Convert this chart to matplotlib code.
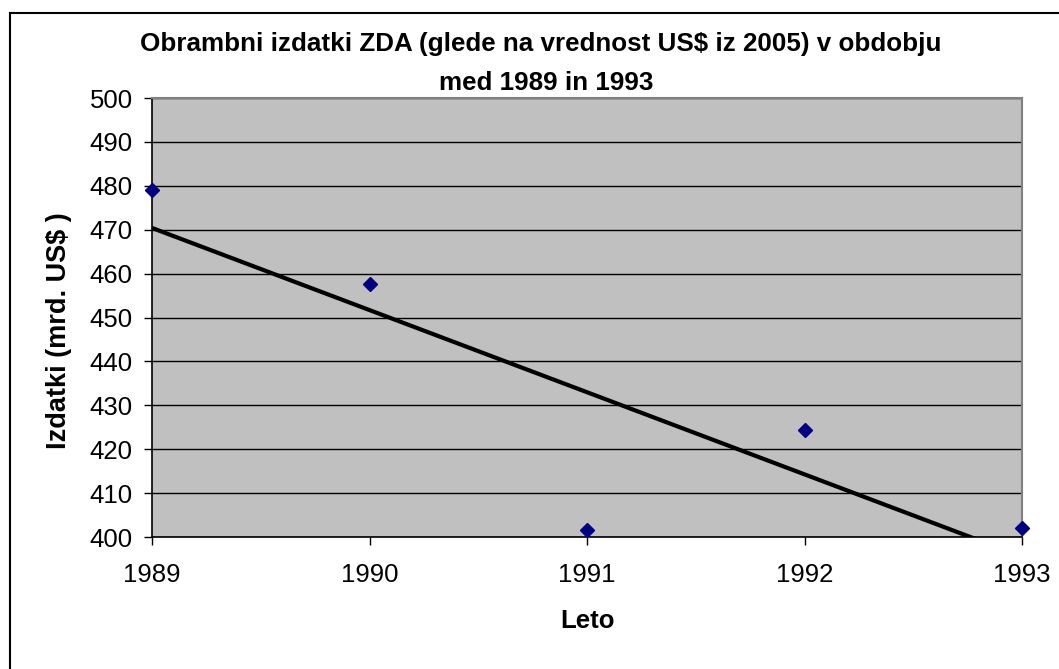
import matplotlib
matplotlib.use("Agg")
import matplotlib.pyplot as plt
from matplotlib.lines import Line2D
import numpy as np

years = [1989, 1990, 1991, 1992, 1993]
spending = [479.0, 457.7, 401.7, 424.4, 402.1]
yticks = [400, 410, 420, 430, 440, 450, 460, 470, 480, 490, 500]
title_lines = ["Obrambni izdatki ZDA (glede na vrednost US$ iz 2005) v obdobju",
               "med 1989 in 1993"]
xlabel = "Leto"
ylabel = "Izdatki (mrd. US$ )"

plt.rcParams['font.family'] = ['Liberation Sans', 'DejaVu Sans']

W, H = 1059, 669
fig = plt.figure(figsize=(W / 100, H / 100), dpi=100)
fig.patch.set_facecolor('white')

ax = fig.add_axes([152 / W, 1 - 537 / H, (1022 - 152) / W, (537 - 98) / H])
ax.set_facecolor('#C0C0C0')
ax.set_xlim(1989, 1993)
ax.set_ylim(400, 500)
ax.set_yticks(yticks)
ax.set_xticks(years)
ax.yaxis.grid(True, color='black', linewidth=1.0)
ax.set_axisbelow(True)

for s in ['left', 'bottom']:
    ax.spines[s].set_color('black')
    ax.spines[s].set_linewidth(1.2)
for s in ['top', 'right']:
    ax.spines[s].set_color('#808080')
    ax.spines[s].set_linewidth(1.5)

ax.tick_params(axis='both', direction='out', length=6, width=1, color='black',
               labelsize=18.5, labelcolor='black')
ax.tick_params(axis='x', pad=13)
ax.tick_params(axis='y', pad=8)

# trend line (linear least-squares fit of the data)
coef = np.polyfit(years, spending, 1)
xs = np.array([years[0], years[-1]], dtype=float)
ax.plot(xs, np.polyval(coef, xs), color='black', linewidth=3, zorder=3)

ax.plot(years, spending, linestyle='none', marker='D', markersize=7,
        color='#000080', markeredgecolor='#000080', clip_on=False, zorder=4)

# titles / labels
fig.text(541 / W, 1 - 51 / H, title_lines[0], ha='center', va='baseline',
         fontsize=18.7, fontweight='bold')
fig.text(546 / W, 1 - 90 / H, title_lines[1], ha='center', va='baseline',
         fontsize=18.7, fontweight='bold')
fig.text(587 / W, 1 - 621 / H, xlabel, ha='center', va='center',
         fontsize=18.5, fontweight='bold')
fig.text(59 / W, 1 - 331 / H, ylabel, ha='center', va='center', rotation=90,
         fontsize=19.5, fontweight='bold')

# outer chart border (left and top visible)
fig.add_artist(Line2D([10 / W, 10 / W], [0, 1 - 13 / H], color='black',
                      linewidth=1.5, transform=fig.transFigure))
fig.add_artist(Line2D([10 / W, 1], [1 - 13 / H, 1 - 13 / H], color='black',
                      linewidth=1.5, transform=fig.transFigure))

fig.savefig('out.png', dpi=100)
